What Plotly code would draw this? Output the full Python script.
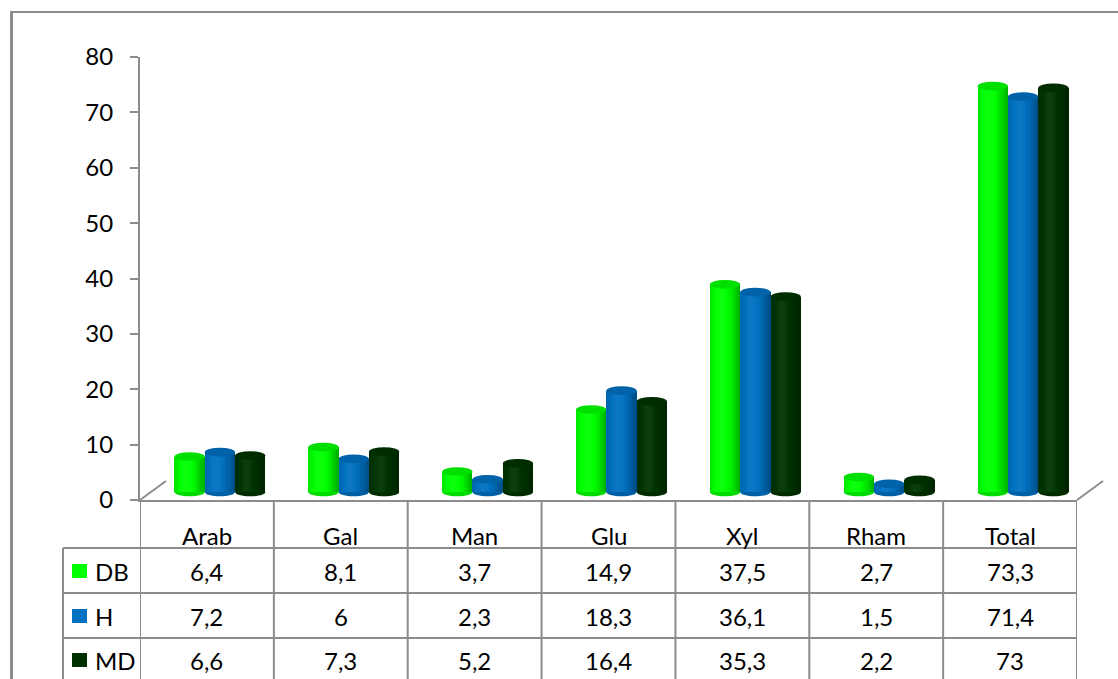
import math
import plotly.graph_objects as go

# ---- data -------------------------------------------------------------
categories = ["Arab", "Gal", "Man", "Glu", "Xyl", "Rham", "Total"]
series_names = ["DB", "H", "MD"]
db_values = [6.4, 8.1, 3.7, 14.9, 37.5, 2.7, 73.3]
h_values = [7.2, 6, 2.3, 18.3, 36.1, 1.5, 71.4]
md_values = [6.6, 7.3, 5.2, 16.4, 35.3, 2.2, 73]
y_ticks = [0, 10, 20, 30, 40, 50, 60, 70, 80]

series_values = [db_values, h_values, md_values]
series_rgb = [(0, 255, 0), (0, 112, 192), (0, 51, 0)]

# ---- geometry helpers (page pixels -> paper fractions) ---------------
W, H = 1118, 679
def px(x):
    return x / W
def py(y):
    return 1 - y / H

X_LEFT, X_RIGHT = 140, 1077      # plot area left / right edge
Y_ZERO, Y_TOP = 500, 57          # pixel rows of 0 and 80
cat_px = (X_RIGHT - X_LEFT) / len(categories)
unit_px = (Y_ZERO - Y_TOP) / 80.0

# depth shift of the cylinders (they stand half-way back on the floor)
DEPTH_DX, DEPTH_DY = 13, 8
FLOOR_DX, FLOOR_DY = 26, 19

GRID = "#8c8c8c"
FONT = dict(family="Lato, 'Open Sans', sans-serif", size=24, color="#000000")


def shade(rgb, f):
    if f <= 1:
        c = [round(v * f) for v in rgb]
    else:
        c = [round(v + (255 - v) * (f - 1)) for v in rgb]
    return "rgb({},{},{})".format(*c)


def light(t):
    # horizontal lighting across a cylinder: bright left of centre, dark right
    return 0.78 + 0.27 * math.cos((t - 0.38) * math.pi)


def fmt(v):
    return f"{v:g}".replace(".", ",")


fig = go.Figure()

bar_w = 0.2265
offsets = [-1.5 * bar_w, -0.5 * bar_w, 0.5 * bar_w]
centres = [i + 0.5 for i in range(len(categories))]
N_STRIPS = 14
ry = 4.3 / unit_px

shapes = []
for s, (vals, rgb, off) in enumerate(zip(series_values, series_rgb, offsets)):
    # cylinder bodies built from overlapping strips for the round shading
    for k in range(N_STRIPS):
        t0 = k / N_STRIPS
        fig.add_trace(go.Bar(
            x=centres, y=vals,
            width=bar_w * (1 - t0),
            offset=off + t0 * bar_w,
            marker=dict(color=shade(rgb, light((k + 0.5) / N_STRIPS)), line=dict(width=0)),
            xaxis="x2", yaxis="y2",
            showlegend=False, hoverinfo="skip",
        ))
    for c, v in zip(centres, vals):
        x0 = c + off
        x1 = x0 + bar_w
        cx, rx = (x0 + x1) / 2, bar_w / 2
        kk = 0.5523
        # rounded bottom
        path = (f"M {x0},0 C {x0},{-kk*ry} {cx-kk*rx},{-ry} {cx},{-ry} "
                f"C {cx+kk*rx},{-ry} {x1},{-kk*ry} {x1},0 Z")
        shapes.append(dict(type="path", xref="x2", yref="y2", path=path,
                           fillcolor=shade(rgb, 0.86), line=dict(width=0), layer="above"))
        # top cap
        shapes.append(dict(type="circle", xref="x2", yref="y2",
                           x0=x0, x1=x1, y0=v - ry, y1=v + ry,
                           fillcolor=shade(rgb, 0.88), line=dict(width=0), layer="above"))

# ---- frame, floor and data table lines --------------------------------
def pline(x0, y0, x1, y1, width=2, color=GRID):
    return dict(type="line", xref="paper", yref="paper",
                x0=px(x0), y0=py(y0), x1=px(x1), y1=py(y1),
                line=dict(color=color, width=width))

shapes.append(pline(11.5, 12, 11.5, 700, width=3))
shapes.append(pline(10, 12, 1130, 12, width=2))
shapes.append(pline(X_LEFT, Y_ZERO, X_LEFT + FLOOR_DX, Y_ZERO - FLOOR_DY))
shapes.append(pline(X_RIGHT, Y_ZERO, X_RIGHT + FLOOR_DX, Y_ZERO - FLOOR_DY))

for k in range(len(categories) + 1):
    shapes.append(dict(type="line", xref="x", yref="paper", x0=k, x1=k,
                       y0=py(Y_ZERO), y1=py(700), line=dict(color=GRID, width=2)))

row_tops = [548, 593, 638]
for y in row_tops:
    shapes.append(pline(63, y, X_RIGHT, y))
shapes.append(pline(63, 548, 63, 700))

annotations = []
for c, name in zip(centres, categories):
    annotations.append(dict(x=c, y=py(535), xref="x", yref="paper", text=name,
                            showarrow=False, font=FONT, xanchor="center", yanchor="middle"))

row_mid = [571, 616, 660]
for name, vals, rgb, ym in zip(series_names, series_values, series_rgb, row_mid):
    shapes.append(dict(type="rect", xref="paper", yref="paper",
                       x0=px(72), x1=px(87), y0=py(ym - 7), y1=py(ym + 7),
                       fillcolor=shade(rgb, 0.95 if rgb[1] < 60 else 1.0), line=dict(width=0)))
    annotations.append(dict(x=px(93), y=py(ym), xref="paper", yref="paper", text=name,
                            showarrow=False, font=FONT, xanchor="left", yanchor="middle"))
    for c, v in zip(centres, vals):
        annotations.append(dict(x=c, y=py(ym), xref="x", yref="paper", text=fmt(v),
                                showarrow=False, font=FONT, xanchor="center", yanchor="middle"))

fig.update_layout(
    width=W, height=H,
    margin=dict(l=0, r=0, t=0, b=0, pad=0, autoexpand=False),
    paper_bgcolor="white", plot_bgcolor="rgba(0,0,0,0)",
    barmode="overlay", bargap=0,
    showlegend=False,
    font=FONT,
    xaxis=dict(domain=[px(X_LEFT), px(X_RIGHT)], range=[0, 7],
               showline=True, linecolor=GRID, linewidth=2,
               showticklabels=False, ticks="", showgrid=False, zeroline=False,
               fixedrange=True, automargin=False),
    yaxis=dict(domain=[py(Y_ZERO), py(Y_TOP)], range=[0, 80],
               tickvals=y_ticks, ticks="outside", ticklen=8, tickwidth=2, tickcolor=GRID,
               showline=True, linecolor=GRID, linewidth=2,
               showgrid=False, zeroline=False, tickfont=FONT,
               ticklabelstandoff=12, fixedrange=True, automargin=False),
    xaxis2=dict(overlaying="x", anchor="y2",
                range=[-DEPTH_DX / cat_px, 7 - DEPTH_DX / cat_px],
                visible=False, fixedrange=True, automargin=False),
    yaxis2=dict(overlaying="y", anchor="x2",
                range=[-DEPTH_DY / unit_px, 80 - DEPTH_DY / unit_px],
                visible=False, fixedrange=True, automargin=False),
    shapes=shapes,
    annotations=annotations,
)

fig.write_html("out.html")
